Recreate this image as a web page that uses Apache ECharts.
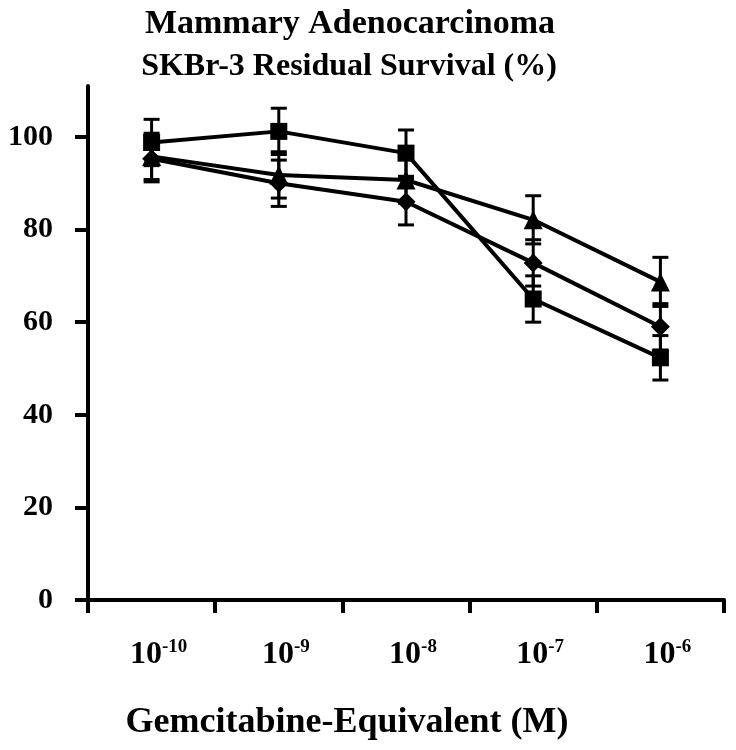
<!DOCTYPE html>
<html>
<head>
<meta charset="utf-8">
<script src="https://cdn.jsdelivr.net/npm/echarts@6/dist/echarts.min.js"></script>
<style>html,body{margin:0;padding:0;background:#fff;}#c{width:736px;height:750px;}</style>
</head>
<body>
<div id="c"></div>
<script>
const exponents = ['-10', '-9', '-8', '-7', '-6'];
const yTicks = [0, 20, 40, 60, 80, 100];
const squareVals = [98.8, 101.2, 96.5, 65.0, 52.3];
const squareErr = [5.0, 5.0, 5.0, 5.0, 4.8];
const triangleVals = [95.8, 91.8, 90.7, 82.1, 68.7];
const triangleErr = [5.0, 5.0, 5.0, 5.2, 5.3];
const diamondVals = [95.3, 90.0, 86.0, 72.8, 59.0];
const diamondErr = [5.0, 5.0, 5.0, 5.0, 5.0];

const FONT = 'Liberation Serif';

function errData(vals, errs) {
  return vals.map((v, i) => [i, v - errs[i], v + errs[i]]);
}

function errSeries(vals, errs) {
  return {
    type: 'custom',
    z: 1,
    silent: true,
    data: errData(vals, errs),
    encode: { x: 0, y: [1, 2] },
    renderItem: function (params, api) {
      const i = api.value(0);
      const lo = api.coord([i, api.value(1)]);
      const hi = api.coord([i, api.value(2)]);
      const hw = 8;
      const st = { stroke: '#000', lineWidth: 3 };
      return {
        type: 'group',
        children: [
          { type: 'line', shape: { x1: lo[0], y1: lo[1], x2: hi[0], y2: hi[1] }, style: st },
          { type: 'line', shape: { x1: hi[0] - hw, y1: hi[1], x2: hi[0] + hw, y2: hi[1] }, style: st },
          { type: 'line', shape: { x1: lo[0] - hw, y1: lo[1], x2: lo[0] + hw, y2: lo[1] }, style: st }
        ]
      };
    }
  };
}

function lineSeries(name, vals, symbol, size) {
  return {
    name: name,
    type: 'line',
    z: 3,
    data: vals,
    symbol: symbol,
    symbolSize: size,
    showAllSymbol: true,
    lineStyle: { color: '#000', width: 4 },
    itemStyle: { color: '#000', borderWidth: 0 },
    emphasis: { disabled: true }
  };
}

const chart = echarts.init(document.getElementById('c'));
chart.setOption({
  animation: false,
  backgroundColor: '#fff',
  title: [
    {
      text: 'Mammary Adenocarcinoma',
      left: 345,
      top: 2,
      textAlign: 'center',
      textStyle: { fontFamily: FONT, fontWeight: 'bold', fontSize: 34, color: '#000' }
    },
    {
      text: 'SKBr-3 Residual Survival (%)',
      left: 344,
      top: 46,
      textAlign: 'center',
      textStyle: { fontFamily: FONT, fontWeight: 'bold', fontSize: 32, color: '#000' }
    },
    {
      text: 'Gemcitabine-Equivalent (M)',
      left: 342,
      top: 700,
      textAlign: 'center',
      textStyle: { fontFamily: FONT, fontWeight: 'bold', fontSize: 36, color: '#000' }
    }
  ],
  grid: { left: 88, right: 12, top: 86, bottom: 150, containLabel: false },
  xAxis: {
    type: 'category',
    data: exponents,
    boundaryGap: true,
    axisLine: { lineStyle: { color: '#000', width: 4 } },
    axisTick: { show: true, length: 13, lineStyle: { color: '#000', width: 4 } },
    splitLine: { show: false },
    axisLabel: {
      margin: 38,
      padding: [0, 0, 0, 14],
      formatter: function (v) { return '{b|10}{s|' + v + '}'; },
      rich: {
        b: { fontFamily: FONT, fontWeight: 'bold', fontSize: 32, color: '#000', verticalAlign: 'bottom' },
        s: { fontFamily: FONT, fontWeight: 'bold', fontSize: 19, color: '#000', verticalAlign: 'top', padding: [0, 0, 14, 0] }
      }
    }
  },
  yAxis: {
    type: 'value',
    min: 0,
    max: 111,
    interval: 20,
    splitLine: { show: false },
    axisLine: { show: true, lineStyle: { color: '#000', width: 4 } },
    axisTick: { show: true, length: 13, lineStyle: { color: '#000', width: 4 }, customValues: yTicks },
    axisLabel: {
      customValues: yTicks,
      margin: 35,
      padding: [5, 0, 0, 0],
      fontFamily: FONT, fontWeight: 'bold', fontSize: 30, color: '#000'
    }
  },
  series: [
    errSeries(squareVals, squareErr),
    errSeries(triangleVals, triangleErr),
    errSeries(diamondVals, diamondErr),
    lineSeries('Square', squareVals, 'rect', 17),
    lineSeries('Triangle', triangleVals, 'triangle', 19),
    lineSeries('Diamond', diamondVals, 'diamond', 19)
  ]
});
</script>
</body>
</html>
